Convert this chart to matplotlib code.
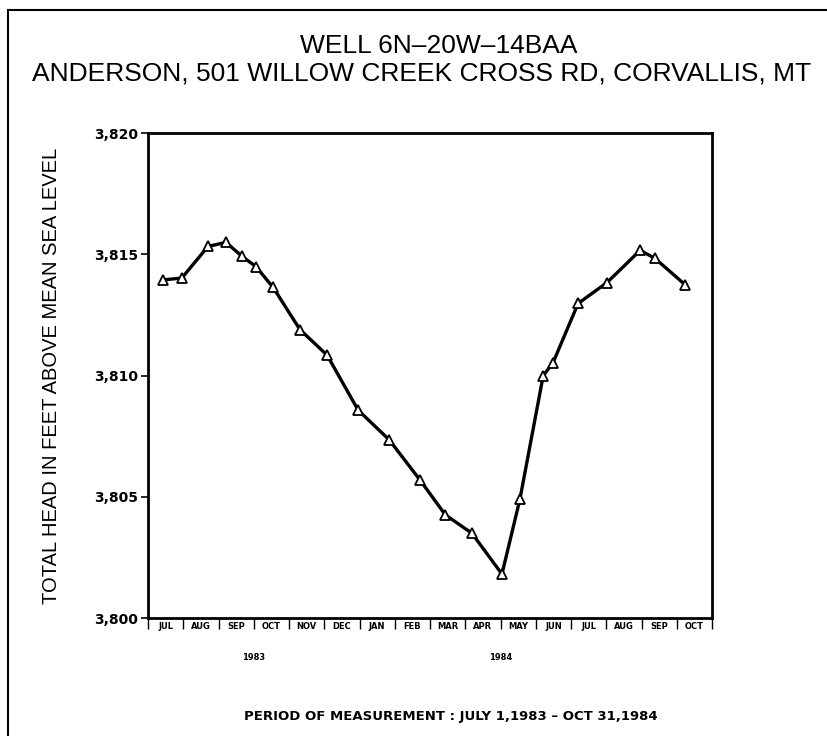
import matplotlib
matplotlib.use("Agg")
import matplotlib.pyplot as plt
from matplotlib.lines import Line2D
import numpy as np

# months since Jul 1, 1983 and total head (ft above MSL)
months = [0.43, 0.96, 1.70, 2.21, 2.67, 3.06, 3.55, 4.31, 5.08, 5.96, 6.84,
          7.72, 8.43, 9.19, 10.04, 10.55, 11.21, 11.49, 12.20, 13.02, 13.96,
          14.38, 15.23]
head = [3813.95, 3814.03, 3815.33, 3815.50, 3814.92, 3814.50, 3813.64,
        3811.90, 3810.85, 3808.58, 3807.36, 3805.69, 3804.27, 3803.50,
        3801.82, 3804.91, 3810.00, 3810.54, 3812.98, 3813.84, 3815.17,
        3814.84, 3813.76]

month_labels = ["JUL", "AUG", "SEP", "OCT", "NOV", "DEC", "JAN", "FEB", "MAR",
                "APR", "MAY", "JUN", "JUL", "AUG", "SEP", "OCT"]
year_labels = ["1983", "1984"]
year_pos = [3.0, 10.0]
y_ticks = [3800, 3805, 3810, 3815, 3820]

fig = plt.figure(figsize=(8.27, 7.36), dpi=100)
ax = fig.add_axes([0.179, 0.160, 0.682, 0.659])

ax.plot(months, head, color="black", linewidth=2.4, marker="^",
        markersize=6.5, markerfacecolor="white", markeredgecolor="black",
        markeredgewidth=1.3)

ax.set_xlim(0, 16)
ax.set_ylim(3800, 3820)

ax.set_yticks(y_ticks)
ax.set_yticklabels(["3,{:03d}".format(v - 3000) for v in y_ticks],
                   fontsize=10, fontweight="bold", family="DejaVu Sans")
ax.tick_params(axis="y", direction="out", length=5, width=1.2, pad=2)

# month boundaries as ticks, month names centred in between
ax.set_xticks(np.arange(0, 17))
ax.set_xticklabels([])
ax.set_xticks(np.arange(16) + 0.5, minor=True)
ax.set_xticklabels(month_labels, minor=True, fontsize=6, fontweight="bold")
ax.tick_params(axis="x", which="major", direction="out", length=8, width=1)
ax.tick_params(axis="x", which="minor", length=0, pad=3)

for x, lab in zip(year_pos, year_labels):
    ax.text(x, -0.08, lab, transform=ax.get_xaxis_transform(),
            ha="center", va="center", fontsize=6, fontweight="bold")

for side in ax.spines.values():
    side.set_linewidth(2)

ax.set_ylabel("TOTAL HEAD IN FEET ABOVE MEAN SEA LEVEL", fontsize=14.5,
              family="Liberation Sans", labelpad=24)

fig.text(0.53, 0.938, "WELL 6N\u201320W\u201314BAA", ha="center", va="center",
         fontsize=19, family="Liberation Sans")
fig.text(0.51, 0.900, "ANDERSON, 501 WILLOW CREEK CROSS RD, CORVALLIS, MT",
         ha="center", va="center", fontsize=19, family="Liberation Sans")
fig.text(0.545, 0.027, "PERIOD OF MEASUREMENT : JULY 1,1983 \u2013 OCT 31,1984",
         ha="center", va="center", fontsize=9.5, fontweight="bold")

# page border (left and top edges)
fig.add_artist(Line2D([0.010, 0.010], [0.0, 0.986], color="black", linewidth=1.5))
fig.add_artist(Line2D([0.010, 1.0], [0.986, 0.986], color="black", linewidth=1.5))

fig.savefig("out.png", dpi=100)
